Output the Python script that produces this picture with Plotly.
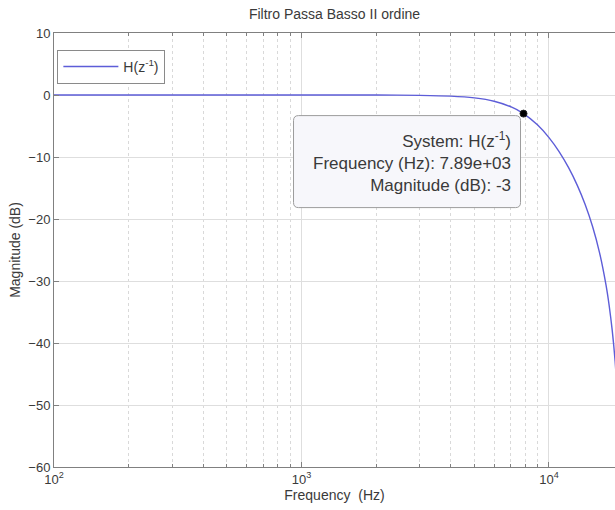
import numpy as np
import plotly.graph_objects as go

# Magnitude response of the 2nd-order low-pass filter (frequency in Hz, magnitude in dB)
freq_hz = [100, 500, 1000, 2000, 3000, 4000, 5000, 6000, 7000, 7890, 9000, 10000,
           11000, 12000, 13000, 14000, 15000, 16000, 17000, 17500, 18000, 18500, 19000]
mag_db = [0.0, 0.0, -0.001, -0.01, -0.055, -0.18, -0.47, -1.0, -1.89, -3.0, -4.85, -6.87,
          -9.17, -11.72, -14.53, -17.66, -21.21, -25.41, -30.66, -33.92, -37.88, -42.94, -50.03]

# Data tip point
tip_freq = 7890
tip_mag = -3
system_name = "H(z<sup>-1</sup>)"

# Axis ticks
x_major = [100, 1000, 10000]
x_major_text = ["10<sup>2</sup>", "10<sup>3</sup>", "10<sup>4</sup>"]
x_minor = [m * d for d in (100, 1000, 10000) for m in range(2, 10)]
y_ticks = [-60, -50, -40, -30, -20, -10, 0, 10]

FONT = "Liberation Sans, Arial, sans-serif"
AX = "#808080"
TXT = "#3a3a3a"
CURVE = "#5d5dd8"


def rounded_box(x0, x1, y0, y1, r):
    """SVG path of a rounded rectangle (pixel offsets, y upwards)."""
    return (f"M {x0 + r},{y1} L {x1 - r},{y1} Q {x1},{y1} {x1},{y1 - r} "
            f"L {x1},{y0 + r} Q {x1},{y0} {x1 - r},{y0} "
            f"L {x0 + r},{y0} Q {x0},{y0} {x0},{y0 + r} "
            f"L {x0},{y1 - r} Q {x0},{y1} {x0 + r},{y1} Z")


fig = go.Figure()
fig.add_trace(go.Scatter(
    x=freq_hz, y=mag_db, mode="lines", name=system_name,
    line=dict(color=CURVE, width=1.4, shape="spline", smoothing=0.6),
))

# Data tip: rounded panel anchored to the marked point (shape positions use data values)
fig.add_shape(
    type="path", xref="x", yref="y",
    xsizemode="pixel", ysizemode="pixel",
    xanchor=tip_freq, yanchor=tip_mag,
    path=rounded_box(-230, -3, -94, -2, 5),
    fillcolor="#f7f7fb", line=dict(color="#9c9c9c", width=1), layer="above",
)
fig.add_trace(go.Scatter(
    x=[tip_freq], y=[tip_mag], mode="markers", showlegend=False,
    marker=dict(color="black", size=7, line=dict(color="#222", width=1)),
))
# Annotation positions on a log axis are given as log10 values
fig.add_annotation(
    x=np.log10(tip_freq), y=tip_mag, xref="x", yref="y",
    text=(f"System: {system_name}<br>Frequency (Hz): {tip_freq:.2e}"
          f"<br>Magnitude (dB): {tip_mag:g}"),
    showarrow=False, xanchor="right", yanchor="top", xshift=-2, yshift=-2,
    align="right", valign="middle", width=206, height=70,
    borderpad=10, borderwidth=1, bordercolor="rgba(0,0,0,0)",
    font=dict(family=FONT, size=17, color=TXT),
)

fig.update_layout(
    width=615, height=510,
    margin=dict(l=54, r=0, t=33, b=43),
    paper_bgcolor="white", plot_bgcolor="white",
    font=dict(family=FONT, size=13, color=TXT),
    title=dict(text="Filtro Passa Basso II ordine", x=0.5, xref="paper",
               y=1 - 14 / 510, yref="container", yanchor="middle", xanchor="center",
               font=dict(family=FONT, size=14, color=TXT)),
    showlegend=True,
    legend=dict(x=0.006, y=0.961, xanchor="left", yanchor="top",
                bgcolor="white", bordercolor="#8a8a8a", borderwidth=1,
                font=dict(family=FONT, size=14, color=TXT), itemwidth=55,
                tracegroupgap=0),
)

fig.update_xaxes(
    type="log", range=[2, 4.2667],
    tickmode="array", tickvals=x_major, ticktext=x_major_text,
    showgrid=True, gridcolor="#dedede", gridwidth=1,
    ticks="inside", ticklen=5, tickcolor=AX,
    showline=True, linecolor=AX, linewidth=1, mirror="allticks",
    minor=dict(tickmode="array", tickvals=x_minor, ticks="inside", ticklen=3,
               tickcolor=AX, showgrid=True, gridcolor="#d9d9d9", griddash="dot"),
    tickfont=dict(family=FONT, size=13, color=TXT),
    title=dict(text="Frequency  (Hz)", standoff=4,
               font=dict(family=FONT, size=14, color=TXT)),
    zeroline=False,
)
fig.update_yaxes(
    range=[-60, 10], tickmode="array", tickvals=y_ticks,
    showgrid=True, gridcolor="#dedede", gridwidth=1,
    ticks="inside", ticklen=5, tickcolor=AX,
    showline=True, linecolor=AX, linewidth=1, mirror=False,
    tickfont=dict(family=FONT, size=13, color=TXT),
    title=dict(text="Magnitude (dB)", standoff=4,
               font=dict(family=FONT, size=14, color=TXT)),
    zeroline=False,
)

fig.write_html("out.html")
